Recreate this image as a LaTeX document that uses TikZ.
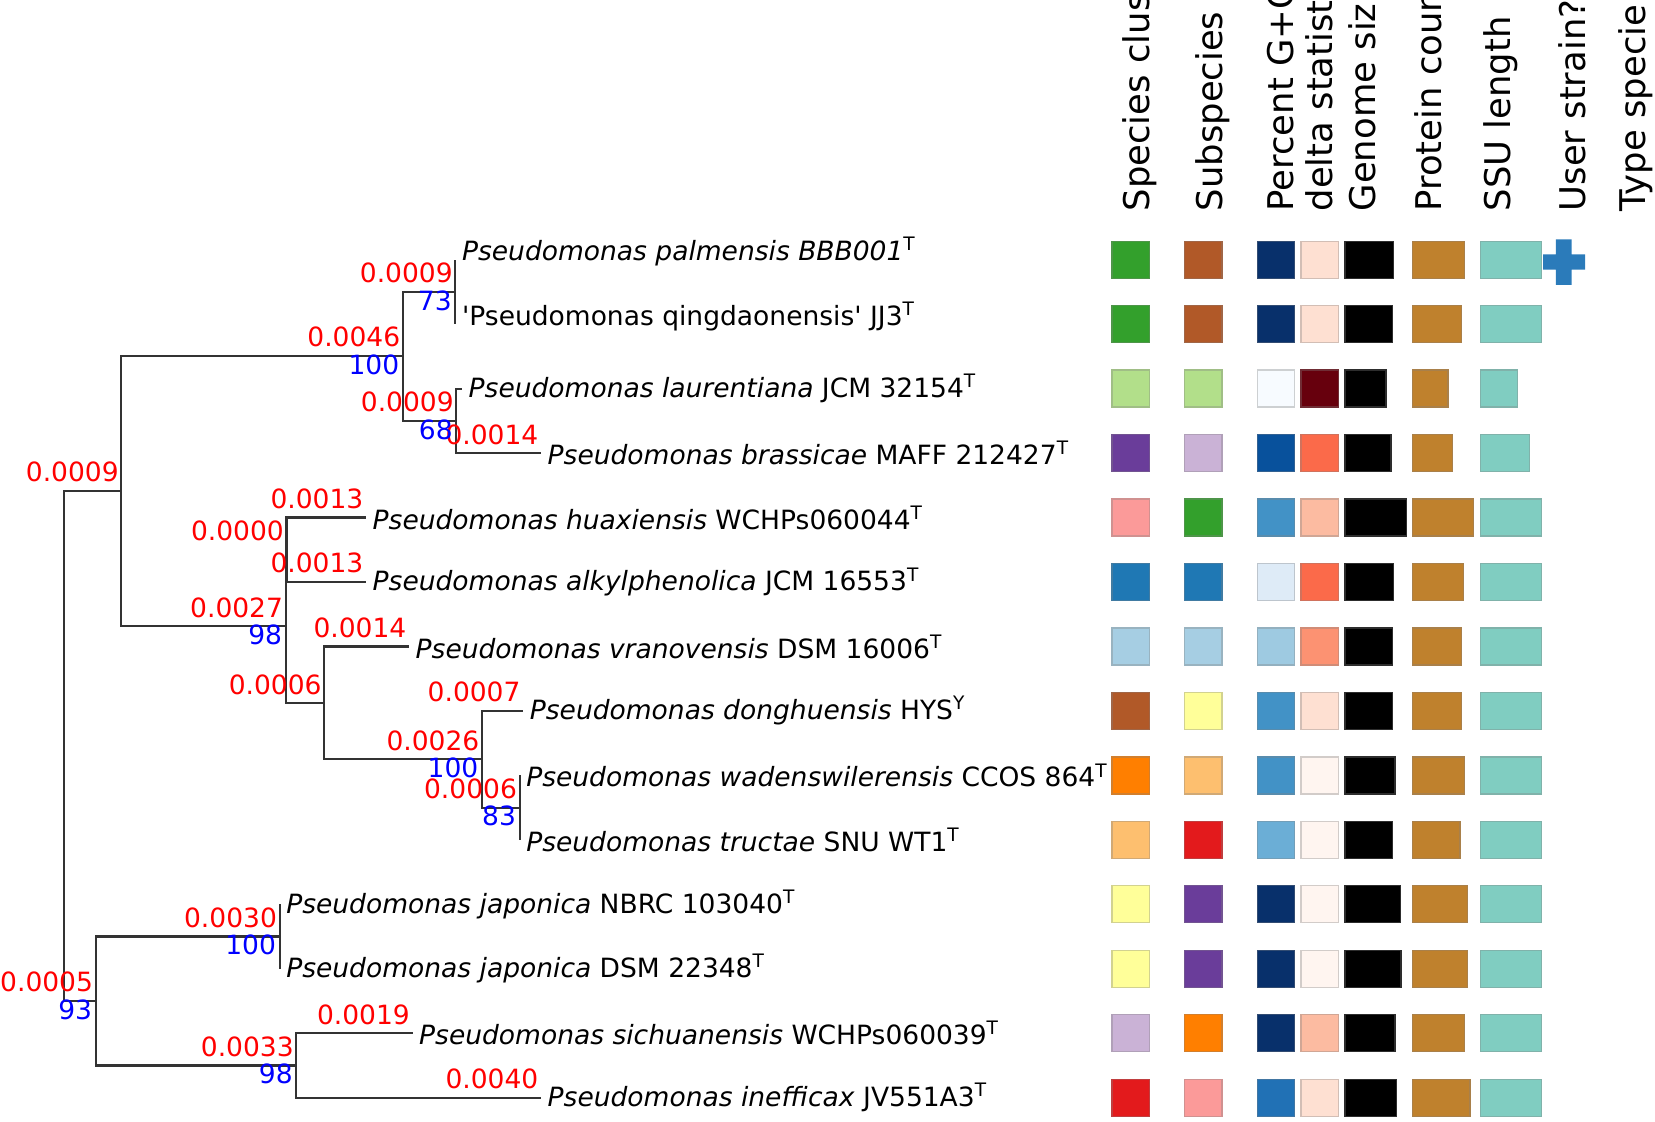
\documentclass[tikz,border=0pt]{standalone}
\usepackage{fontspec}
\setmainfont{DejaVu Sans}
\newcommand\lblsize{\fontsize{7.54pt}{9pt}\selectfont}
\newcommand\hdrsize{\fontsize{10.07pt}{12pt}\selectfont}
% Paired palette (clusters)
\definecolor{pltblue}{HTML}{A6CEE3}
\definecolor{pblue}{HTML}{1F78B4}
\definecolor{pltgreen}{HTML}{B2DF8A}
\definecolor{pgreen}{HTML}{33A02C}
\definecolor{ppink}{HTML}{FB9A99}
\definecolor{pred}{HTML}{E31A1C}
\definecolor{pltorange}{HTML}{FDBF6F}
\definecolor{porange}{HTML}{FF7F00}
\definecolor{plilac}{HTML}{CAB2D6}
\definecolor{ppurple}{HTML}{6A3D9A}
\definecolor{pyellow}{HTML}{FFFF99}
\definecolor{pbrown}{HTML}{B15928}
% Blues (G+C) and Reds (delta)
\definecolor{bl1}{HTML}{F7FBFF}
\definecolor{bl2}{HTML}{DEEBF7}
\definecolor{bl4}{HTML}{9ECAE1}
\definecolor{bl5}{HTML}{6BAED6}
\definecolor{bl6}{HTML}{4292C6}
\definecolor{bl7}{HTML}{2171B5}
\definecolor{bl8}{HTML}{08519C}
\definecolor{bl9}{HTML}{08306B}
\definecolor{rd1}{HTML}{FFF5F0}
\definecolor{rd2}{HTML}{FEE0D2}
\definecolor{rd3}{HTML}{FCBBA1}
\definecolor{rd4}{HTML}{FC9272}
\definecolor{rd5}{HTML}{FB6A4A}
\definecolor{rd9}{HTML}{67000D}
\definecolor{protc}{HTML}{BF812D}
\definecolor{ssuc}{HTML}{80CDC1}
\definecolor{userc}{HTML}{2B7BBA}
\tikzset{
  branch/.style={line width=0.6pt,black!80},
  blen/.style={text=red,font=\lblsize,inner sep=0pt,anchor=base east,xshift=-0.02cm,yshift=0.09cm},
  boot/.style={text=blue,font=\lblsize,inner sep=0pt,anchor=north east,xshift=-0.03cm,yshift=0.02cm},
  leaf/.style={font=\lblsize,inner sep=0pt,anchor=west,xshift=0.06cm},
  colhead/.style={font=\hdrsize,inner sep=0pt,rotate=90,anchor=base west},
  cell/.style={fill=#1,draw=#1!65!gray,line width=0.35pt}
}

\begin{document}
\begin{tikzpicture}[x=0.01cm,y=-0.01cm]
\useasboundingbox (0,0) rectangle (1655,1122);
\clip (0,0) rectangle (1655,1122);
% inner nodes
\coordinate (R) at (64.3,745.7);
\coordinate (D) at (121.4,490.9);
\coordinate (A) at (402.9,356);
\coordinate (B) at (455.4,291.9);
\coordinate (C) at (456.4,420.9);
\coordinate (E) at (285.7,626.3);
\coordinate (F) at (286.5,549.8);
\coordinate (G) at (324.3,703.1);
\coordinate (H) at (482,759.3);
\coordinate (I) at (519.6,807.6);
\coordinate (J) at (95.7,1000.7);
\coordinate (K) at (279.6,936.5);
\coordinate (Q) at (296.4,1065.5);
% leaves
\coordinate (L1) at (455.4,259.7);
\coordinate (L2) at (455.4,324.2);
\coordinate (L3) at (462,388.6);
\coordinate (L4) at (541,453.1);
\coordinate (L5) at (366,517.5);
\coordinate (L6) at (366,582.0);
\coordinate (L7) at (409,646.5);
\coordinate (L8) at (523.2,710.9);
\coordinate (L9) at (519.6,775.4);
\coordinate (L10) at (519.6,839.8);
\coordinate (L11) at (279.6,904.3);
\coordinate (L12) at (279.6,968.8);
\coordinate (L13) at (412.5,1033.2);
\coordinate (L14) at (541,1097.7);
\draw[branch](R)|-(D)(R)|-(J)(D)|-(A)(D)|-(E)(A)|-(B)(A)|-(C)
  (B)|-(L1)(B)|-(L2)(C)|-(L3)(C)|-(L4)(E)|-(F)(E)|-(G)(F)|-(L5)(F)|-(L6)
  (G)|-(L7)(G)|-(H)(H)|-(L8)(H)|-(I)(I)|-(L9)(I)|-(L10)
  (J)|-(K)(J)|-(Q)(K)|-(L11)(K)|-(L12)(Q)|-(L13)(Q)|-(L14);
% branch lengths
\node[blen] (lD) at (D) {0.0009};
\node[blen] (lA) at (A) {0.0046};
\node[blen] (lB) at (B) {0.0009};
\node[blen] (lC) at (C) {0.0009};
\node[blen] (lL4) at (L4) {0.0014};
\node[blen] (lE) at (E) {0.0027};
\node[blen] (lF) at (F) {0.0000};
\node[blen] (lL5) at (L5) {0.0013};
\node[blen] (lL6) at (L6) {0.0013};
\node[blen] (lG) at (G) {0.0006};
\node[blen] (lL7) at (L7) {0.0014};
\node[blen] (lH) at (H) {0.0026};
\node[blen] (lL8) at (L8) {0.0007};
\node[blen] (lI) at (I) {0.0006};
\node[blen] (lJ) at (J) {0.0005};
\node[blen] (lK) at (K) {0.0030};
\node[blen] (lQ) at (Q) {0.0033};
\node[blen] (lL13) at (L13) {0.0019};
\node[blen] (lL14) at (L14) {0.0040};
% bootstrap
\node[boot] (sA) at (A) {100};
\node[boot] (sB) at (B) {73};
\node[boot] (sC) at (C) {68};
\node[boot] (sE) at (E) {98};
\node[boot] (sH) at (H) {100};
\node[boot] (sI) at (I) {83};
\node[boot] (sJ) at (J) {93};
\node[boot] (sK) at (K) {100};
\node[boot] (sQ) at (Q) {98};
% strain names
\node[leaf,yshift=0.08cm] (t1) at (L1) {\textit{Pseudomonas palmensis BBB001}\textsuperscript{T}};
\node[leaf,yshift=0.08cm] (t2) at (L2) {\textquotesingle Pseudomonas qingdaonensis\textquotesingle{} JJ3\textsuperscript{T}};
\node[leaf] (t3) at (L3) {\textit{Pseudomonas laurentiana} JCM 32154\textsuperscript{T}};
\node[leaf] (t4) at (L4) {\textit{Pseudomonas brassicae} MAFF 212427\textsuperscript{T}};
\node[leaf] (t5) at (L5) {\textit{Pseudomonas huaxiensis} WCHPs060044\textsuperscript{T}};
\node[leaf] (t6) at (L6) {\textit{Pseudomonas alkylphenolica} JCM 16553\textsuperscript{T}};
\node[leaf] (t7) at (L7) {\textit{Pseudomonas vranovensis} DSM 16006\textsuperscript{T}};
\node[leaf] (t8) at (L8) {\textit{Pseudomonas donghuensis} HYS\textsuperscript{Y}};
\node[leaf] (t9) at (L9) {\textit{Pseudomonas wadenswilerensis} CCOS 864\textsuperscript{T}};
\node[leaf] (t10) at (L10) {\textit{Pseudomonas tructae} SNU WT1\textsuperscript{T}};
\node[leaf] (t11) at (L11) {\textit{Pseudomonas japonica} NBRC 103040\textsuperscript{T}};
\node[leaf] (t12) at (L12) {\textit{Pseudomonas japonica} DSM 22348\textsuperscript{T}};
\node[leaf] (t13) at (L13) {\textit{Pseudomonas sichuanensis} WCHPs060039\textsuperscript{T}};
\node[leaf] (t14) at (L14) {\textit{Pseudomonas inefficax} JV551A3\textsuperscript{T}};
% column headers
\node[colhead] (h1) at (1149.5,212) {Species clus};
\node[colhead] (h2) at (1222,212) {Subspecies};
\node[colhead] (h3) at (1293.5,212) {Percent G+C};
\node[colhead] (h4) at (1332,212) {delta statist};
\node[colhead] (h5) at (1375,212) {Genome siz};
\node[colhead] (h6) at (1441.5,212) {Protein coun};
\node[colhead] (h7) at (1510.5,212) {SSU length};
\node[colhead] (h8) at (1585,212) {User strain?};
\node[colhead] (h9) at (1645,212) {Type specie};
% cells: row y / species / subspecies / G+C / delta / genome end / protein end / SSU end
\foreach \y/\ca/\cb/\cc/\cd/\g/\p/\s in {
  259.7/pgreen/pbrown/bl9/rd2/1393.8/1464.6/1541.8,
  324.2/pgreen/pbrown/bl9/rd2/1392.7/1461.8/1541.8,
  388.6/pltgreen/pltgreen/bl1/rd9/1386/1448/1517.7,
  453.1/ppurple/plilac/bl8/rd5/1391/1452.2/1529.4,
  517.5/ppink/pgreen/bl6/rd3/1406.2/1473.5/1541.8,
  582.0/pblue/pblue/bl2/rd5/1393.8/1463.2/1541.8,
  646.5/pltblue/pltblue/bl4/rd4/1392.7/1461.8/1541.8,
  710.9/pbrown/pyellow/bl6/rd2/1392.7/1461.8/1541.8,
  775.4/porange/pltorange/bl6/rd1/1394.9/1464.6/1541.8,
  839.8/pltorange/pred/bl5/rd1/1392.7/1460/1541.8,
  904.3/pyellow/ppurple/bl9/rd1/1400.2/1467.4/1541.8,
  968.8/pyellow/ppurple/bl9/rd1/1400.9/1467.4/1541.8,
  1033.2/plilac/porange/bl9/rd3/1394.9/1464.6/1541.8,
  1097.7/pred/ppink/bl7/rd2/1396.6/1469.9/1541.8}{
  \path[cell=\ca] (1112,\y-18.5) rectangle (1149.5,\y+18.5);
  \path[cell=\cb] (1184.5,\y-18.5) rectangle (1222,\y+18.5);
  \path[cell=\cc] (1257.5,\y-18.5) rectangle (1294.3,\y+18.5);
  \path[cell=\cd] (1301,\y-18.5) rectangle (1338.2,\y+18.5);
  \path[cell=black] (1345,\y-18.5) rectangle (\g,\y+18.5);
  \path[cell=protc] (1412.2,\y-18.5) rectangle (\p,\y+18.5);
  \path[cell=ssuc] (1480.5,\y-18.5) rectangle (\s,\y+18.5);
}
% user strain mark
\fill[userc] (1555.9,239.5) rectangle (1571.5,284.8) (1543.2,254.3) rectangle (1585,269.6);
\end{tikzpicture}
\end{document}
